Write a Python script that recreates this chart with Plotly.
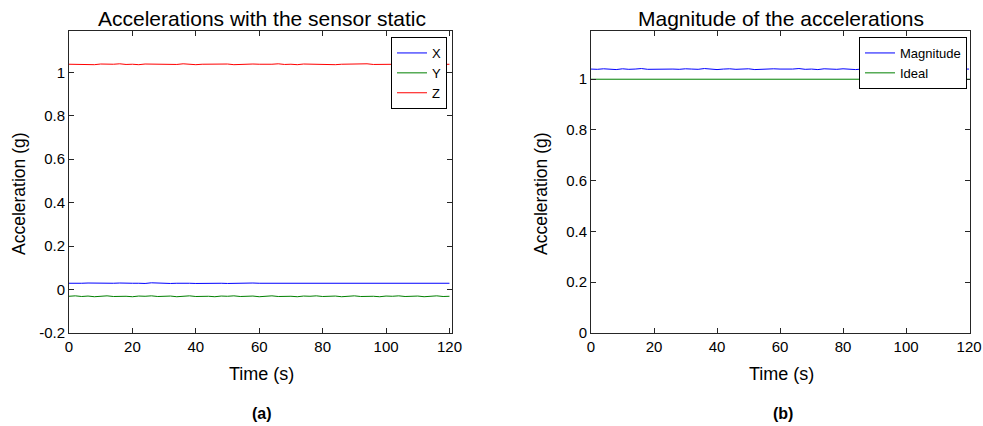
import plotly.graph_objects as go

time_s = [0, 2, 4, 6, 8, 10, 12, 14, 16, 18,
          20, 22, 24, 26, 28, 30, 32, 34, 36, 38,
          40, 42, 44, 46, 48, 50, 52, 54, 56, 58,
          60, 62, 64, 66, 68, 70, 72, 74, 76, 78,
          80, 82, 84, 86, 88, 90, 92, 94, 96, 98,
          100, 102, 104, 106, 108, 110, 112, 114, 116, 118,
          120]

acc_x = [0.029, 0.028, 0.029, 0.030, 0.029, 0.028, 0.029, 0.029, 0.030, 0.028,
         0.029, 0.029, 0.028, 0.031, 0.029, 0.029, 0.028, 0.029, 0.030, 0.029,
         0.028, 0.029, 0.029, 0.030, 0.029, 0.028, 0.029, 0.029, 0.028, 0.030,
         0.029, 0.029, 0.028, 0.029, 0.030, 0.029, 0.029, 0.028, 0.029, 0.029,
         0.030, 0.029, 0.028, 0.029, 0.029, 0.030, 0.029, 0.028, 0.029, 0.029,
         0.028, 0.029, 0.030, 0.029, 0.029, 0.028, 0.029, 0.030, 0.029, 0.028,
         0.029]

acc_y = [-0.031, -0.029, -0.032, -0.030, -0.033, -0.031, -0.029, -0.032, -0.030, -0.031,
         -0.033, -0.030, -0.031, -0.029, -0.032, -0.031, -0.030, -0.033, -0.031, -0.029,
         -0.032, -0.030, -0.031, -0.033, -0.030, -0.031, -0.029, -0.032, -0.031, -0.030,
         -0.033, -0.031, -0.029, -0.032, -0.030, -0.031, -0.033, -0.030, -0.031, -0.029,
         -0.032, -0.031, -0.030, -0.033, -0.031, -0.029, -0.032, -0.030, -0.031, -0.033,
         -0.030, -0.031, -0.029, -0.032, -0.031, -0.030, -0.033, -0.031, -0.029, -0.032,
         -0.031]

acc_z = [1.037, 1.036, 1.038, 1.037, 1.035, 1.038, 1.036, 1.037, 1.039, 1.036,
         1.037, 1.035, 1.038, 1.037, 1.036, 1.038, 1.037, 1.036, 1.039, 1.037,
         1.035, 1.037, 1.038, 1.036, 1.037, 1.038, 1.035, 1.037, 1.036, 1.038,
         1.037, 1.036, 1.037, 1.039, 1.036, 1.037, 1.035, 1.038, 1.037, 1.036,
         1.038, 1.037, 1.035, 1.037, 1.038, 1.036, 1.037, 1.039, 1.036, 1.037,
         1.038, 1.036, 1.037, 1.035, 1.038, 1.037, 1.036, 1.038, 1.037, 1.036,
         1.037]

magnitude = [1.040, 1.039, 1.041, 1.040, 1.038, 1.041, 1.039, 1.040, 1.042, 1.039,
             1.040, 1.038, 1.041, 1.040, 1.039, 1.041, 1.040, 1.039, 1.042, 1.040,
             1.038, 1.040, 1.041, 1.039, 1.040, 1.041, 1.038, 1.040, 1.039, 1.041,
             1.040, 1.039, 1.040, 1.042, 1.039, 1.040, 1.038, 1.041, 1.040, 1.039,
             1.041, 1.040, 1.038, 1.040, 1.041, 1.039, 1.040, 1.042, 1.039, 1.040,
             1.041, 1.039, 1.040, 1.038, 1.041, 1.040, 1.039, 1.041, 1.040, 1.039,
             1.040]

ideal_time = [0, 120.3]
ideal = [1.0, 1.0]

x_ticks = [0, 20, 40, 60, 80, 100, 120]
y_ticks_a = [-0.2, 0, 0.2, 0.4, 0.6, 0.8, 1]
y_labels_a = ["-0.2", "0", "0.2", "0.4", "0.6", "0.8", "1"]
y_ticks_b = [0, 0.2, 0.4, 0.6, 0.8, 1]
y_labels_b = ["0", "0.2", "0.4", "0.6", "0.8", "1"]

FONT = "Liberation Sans, Arial, sans-serif"
BLUE = "#0000ff"
GREEN = "#008000"
RED = "#ff0000"
AX = "#262626"
W, H = 983, 426

fig = go.Figure()
fig.add_trace(go.Scatter(x=time_s, y=acc_x, mode="lines", name="X",
                         line=dict(color=BLUE, width=1), xaxis="x", yaxis="y", legend="legend"))
fig.add_trace(go.Scatter(x=time_s, y=acc_y, mode="lines", name="Y",
                         line=dict(color=GREEN, width=1), xaxis="x", yaxis="y", legend="legend"))
fig.add_trace(go.Scatter(x=time_s, y=acc_z, mode="lines", name="Z",
                         line=dict(color=RED, width=1), xaxis="x", yaxis="y", legend="legend"))
fig.add_trace(go.Scatter(x=time_s, y=magnitude, mode="lines", name="Magnitude",
                         line=dict(color=BLUE, width=1), xaxis="x2", yaxis="y2", legend="legend2"))
fig.add_trace(go.Scatter(x=ideal_time, y=ideal, mode="lines", name="Ideal",
                         line=dict(color=GREEN, width=1), xaxis="x2", yaxis="y2", legend="legend2"))

axis_common = dict(showgrid=False, zeroline=False, showline=True, linecolor=AX, linewidth=1,
                   mirror="ticks", ticks="inside", ticklen=5, tickcolor=AX, automargin=False,
                   ticklabeloverflow="allow",
                   tickfont=dict(family=FONT, size=15, color="#000000"))

ytop = 1 - 31 / H
ybot = 1 - 333 / H

fig.update_layout(
    template="none",
    width=W, height=H,
    margin=dict(l=0, r=0, t=0, b=0, pad=0),
    paper_bgcolor="white", plot_bgcolor="white",
    font=dict(family=FONT, color="#000000"),
    xaxis=dict(domain=[69 / W, 452 / W], range=[0, 120.8], tickvals=x_ticks,
               anchor="y", **axis_common),
    yaxis=dict(domain=[ybot, ytop], range=[-0.2, 1.19], tickvals=y_ticks_a,
               ticktext=y_labels_a, anchor="x", **axis_common),
    xaxis2=dict(domain=[591 / W, 970 / W], range=[0, 120.3], tickvals=x_ticks,
                anchor="y2", **axis_common),
    yaxis2=dict(domain=[ybot, ytop], range=[0, 1.19], tickvals=y_ticks_b,
                ticktext=y_labels_b, anchor="x2", **axis_common),
    legend=dict(x=447 / W, y=1 - 37 / H, xanchor="right", yanchor="top",
                bordercolor="#000000", borderwidth=1, bgcolor="white",
                font=dict(family=FONT, size=13), tracegroupgap=0, itemwidth=30),
    legend2=dict(x=967 / W, y=1 - 37 / H, xanchor="right", yanchor="top",
                 bordercolor="#000000", borderwidth=1, bgcolor="white",
                 font=dict(family=FONT, size=13), tracegroupgap=0, itemwidth=30),
    showlegend=True,
)

texts = [
    ("Accelerations with the sensor static", 262, 19, 21),
    ("Magnitude of the accelerations", 781, 19, 21),
    ("Time (s)", 261, 374, 18),
    ("Time (s)", 781, 374, 18),
    ("<b>(a)</b>", 262, 413, 16),
    ("<b>(b)</b>", 783, 413, 16),
]
for txt, xp, yp, sz in texts:
    fig.add_annotation(text=txt, x=xp / W, y=1 - yp / H,
                       xref="paper", yref="paper", showarrow=False,
                       xanchor="center", yanchor="middle",
                       font=dict(family=FONT, size=sz, color="#000000"))

for xpix in (19, 541):
    fig.add_annotation(text="Acceleration (g)", x=xpix / W, y=1 - 194 / H,
                       xref="paper", yref="paper", showarrow=False, textangle=-90,
                       xanchor="center", yanchor="middle",
                       font=dict(family=FONT, size=17.5, color="#000000"))

fig.write_html("out.html", config={"displayModeBar": False},
               post_script="document.body.style.margin='0';")
